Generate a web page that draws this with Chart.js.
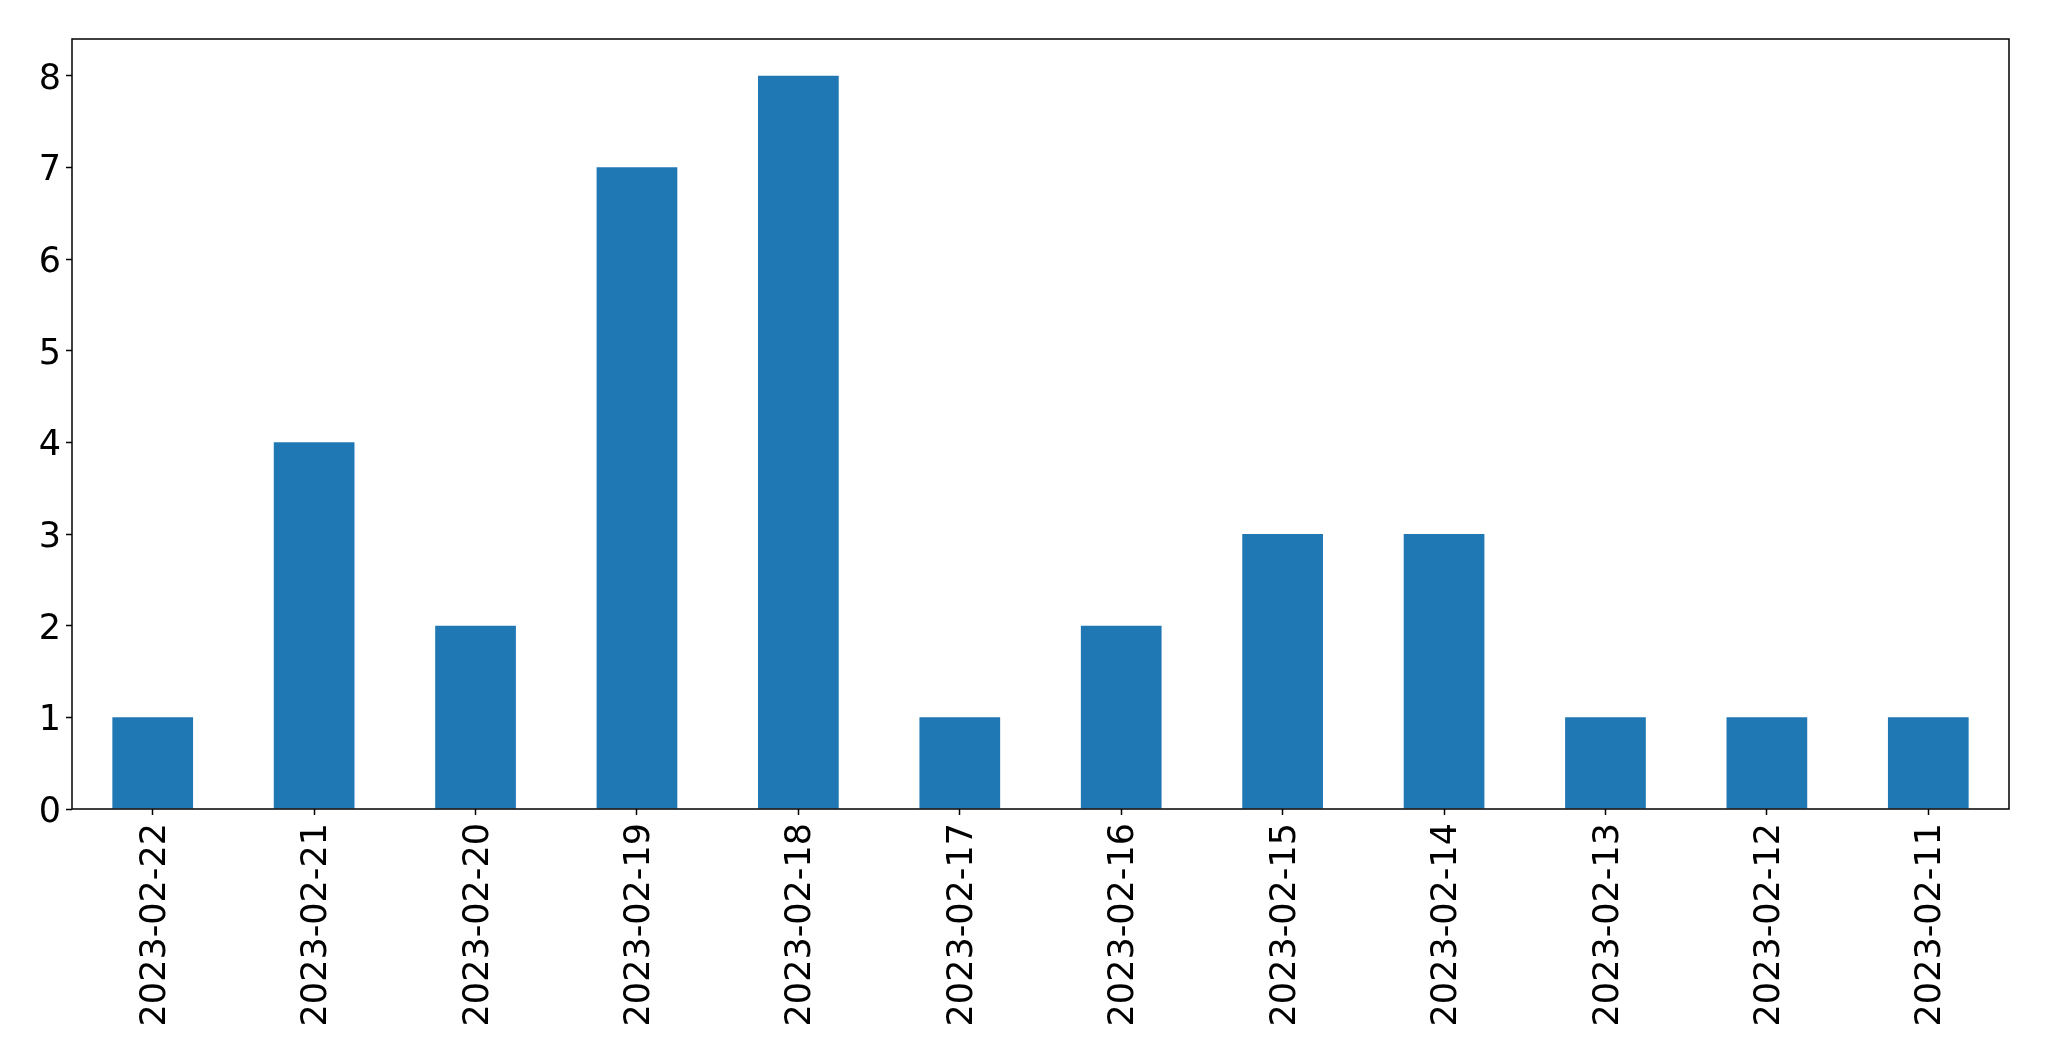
<!DOCTYPE html>
<html>
<head>
<meta charset="utf-8">
<script src="https://cdn.jsdelivr.net/npm/chart.js@4"></script>
<style>
  html, body { margin: 0; padding: 0; background: #fff; }
  #wrap { width: 2049px; height: 1061px; }
</style>
</head>
<body>
<div id="wrap"><canvas id="chart" width="2049" height="1061"></canvas></div>
<script>
// ── Données ──
const dates = ['2023-02-22', '2023-02-21', '2023-02-20', '2023-02-19', '2023-02-18', '2023-02-17',
               '2023-02-16', '2023-02-15', '2023-02-14', '2023-02-13', '2023-02-12', '2023-02-11'];
const counts = [1, 4, 2, 7, 8, 1, 2, 3, 3, 1, 1, 1];
const yTicks = [0, 1, 2, 3, 4, 5, 6, 7, 8];

// cadre noir autour de la zone du graphique
const frame = {
  id: 'frame',
  afterDraw(chart) {
    const { ctx, chartArea: a } = chart;
    ctx.save();
    ctx.strokeStyle = '#000';
    ctx.lineWidth = 1.5;
    ctx.strokeRect(a.left, a.top, a.right - a.left, a.bottom - a.top);
    ctx.restore();
  }
};

const font = { family: 'DejaVu Sans', size: 35 };

new Chart(document.getElementById('chart'), {
  type: 'bar',
  data: {
    labels: dates,
    datasets: [{
      data: counts,
      backgroundColor: '#1f77b4',
      categoryPercentage: 1,
      barPercentage: 0.5,
    }]
  },
  options: {
    responsive: false,
    animation: false,
    layout: { padding: { top: 39, right: 40, left: 0, bottom: 0 } },
    plugins: { legend: { display: false }, tooltip: { enabled: false } },
    scales: {
      x: {
        grid: { offset: false, drawOnChartArea: false, tickLength: 6, tickColor: '#000', tickWidth: 1.5 },
        border: { display: false },
        ticks: { color: '#000', font, minRotation: 90, maxRotation: 90, padding: 8, labelOffset: 3, autoSkip: false },
        afterFit: s => { s.height = 252; }
      },
      y: {
        min: 0,
        max: 8.4,
        grid: { drawOnChartArea: false, tickLength: 6, tickColor: '#000', tickWidth: 1.5 },
        border: { display: false },
        ticks: { color: '#000', font, padding: 5, labelOffset: 4 },
        afterBuildTicks: s => { s.ticks = yTicks.map(v => ({ value: v })); },
        afterFit: s => { s.width = 72; }
      }
    }
  },
  plugins: [frame]
});
</script>
</body>
</html>
